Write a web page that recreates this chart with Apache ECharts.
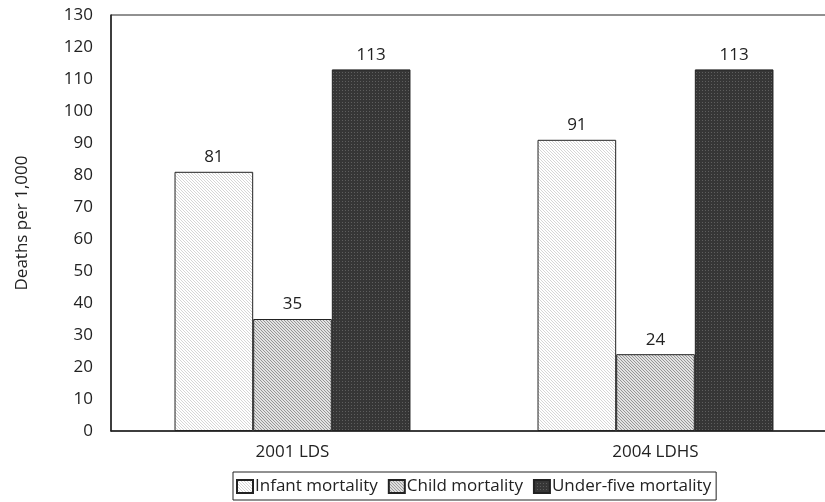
<!DOCTYPE html>
<html>
<head>
<meta charset="utf-8">
<script src="https://cdn.jsdelivr.net/npm/echarts@6/dist/echarts.min.js"></script>
<style>html,body{margin:0;padding:0;background:#fff;overflow:hidden;}#c{width:840px;height:502px;}</style>
</head>
<body>
<div id="c"></div>
<script>
var categories = ['2001 LDS', '2004 LDHS'];
var seriesNames = ['Infant mortality', 'Child mortality', 'Under-five mortality'];
var infant = [81, 91];
var child = [35, 24];
var underFive = [113, 113];
var yTicks = [0, 130, 10];

function pattern(bg, fg, kind) {
  var n = 3;
  var c = document.createElement('canvas');
  c.width = n; c.height = n;
  var g = c.getContext('2d');
  g.fillStyle = bg; g.fillRect(0, 0, n, n);
  g.fillStyle = fg;
  if (kind === 'dots') {
    g.fillRect(0, 0, 1, 1);
  } else {
    for (var i = 0; i < n; i++) g.fillRect(i, i, 1, 1);
  }
  return { image: c, repeat: 'repeat' };
}

var fills = [
  pattern('#ffffff', '#d6d6d6', 'diag'),
  pattern('#e2e2e2', '#959595', 'diag'),
  pattern('#363636', '#5e5e5e', 'dots')
];
var values = [infant, child, underFive];
var font = 'Open Sans';
var fs = 17;

var chart = echarts.init(document.getElementById('c'), null, { renderer: 'canvas' });
chart.setOption({
  animation: false,
  backgroundColor: '#ffffff',
  textStyle: { fontFamily: font, color: '#222' },
  grid: { left: 111, top: 15, right: 3, height: 416, show: true, borderColor: '#222', borderWidth: 1, backgroundColor: 'transparent' },
  legend: {
    data: seriesNames,
    left: 233, top: 472,
    orient: 'horizontal', icon: 'rect',
    itemWidth: 16, itemHeight: 13, itemGap: 10,
    padding: [6, 5, 5, 3],
    borderColor: '#222', borderWidth: 1, borderRadius: 0,
    textStyle: { fontFamily: font, fontSize: fs, color: '#222', padding: [0, 0, 0, -3] }
  },
  xAxis: {
    type: 'category', data: categories,
    axisLine: { lineStyle: { color: '#222', width: 1.5 } },
    axisTick: { show: false },
    axisLabel: { fontFamily: font, fontSize: fs, color: '#222', margin: 13 }
  },
  yAxis: {
    type: 'value', min: yTicks[0], max: yTicks[1], interval: yTicks[2],
    name: 'Deaths per 1,000', nameLocation: 'middle', nameGap: 80, nameRotate: 90,
    nameTextStyle: { fontFamily: font, fontSize: fs, color: '#222' },
    axisLine: { show: true, lineStyle: { color: '#222', width: 1.5 } },
    axisTick: { show: false },
    splitLine: { show: false },
    axisLabel: { fontFamily: font, fontSize: fs, color: '#222', margin: 18 }
  },
  series: seriesNames.map(function (name, i) {
    return {
      name: name, type: 'bar', data: values[i],
      barGap: '0%', barCategoryGap: '35%',
      itemStyle: { color: fills[i], borderColor: '#222', borderWidth: 1 },
      label: { show: true, position: 'top', distance: 6, fontFamily: font, fontSize: fs, color: '#222' }
    };
  })
});
</script>
</body>
</html>
